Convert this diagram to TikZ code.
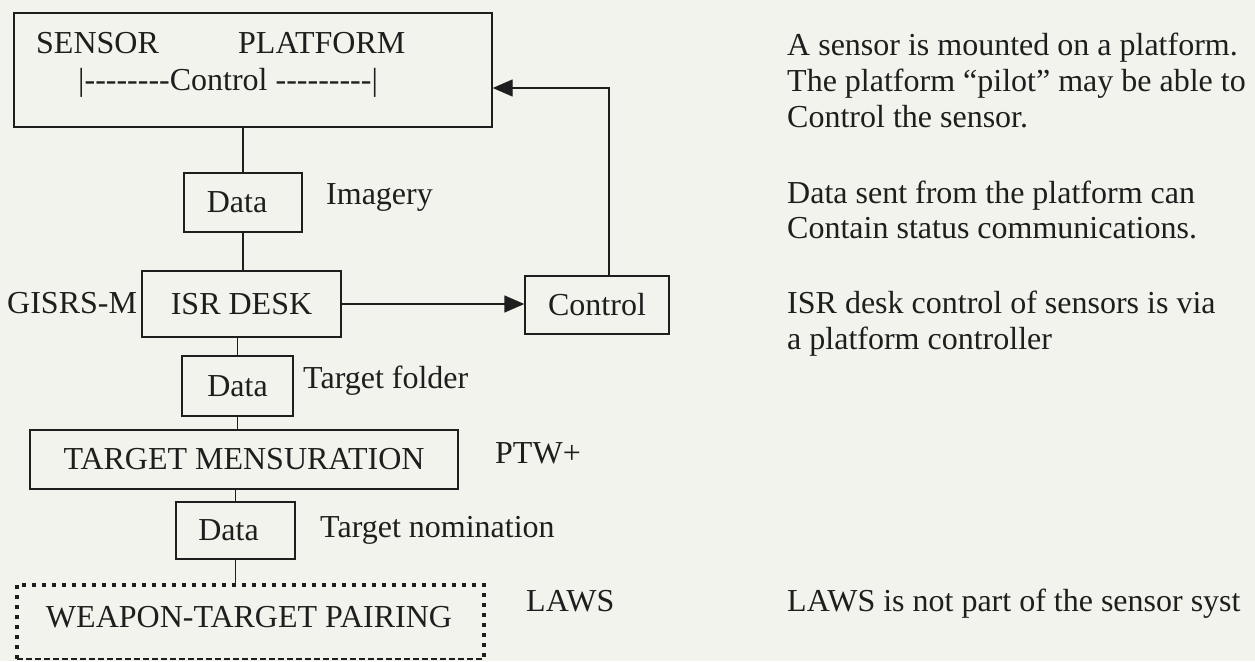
\documentclass[tikz,border=0pt]{standalone}
\usepackage{fontspec}
\setmainfont{Liberation Serif}
\usetikzlibrary{arrows.meta}
\definecolor{paper}{RGB}{243,243,237}
\definecolor{ink}{RGB}{30,30,30}
\newcommand\hy{-\kern0pt}
\begin{document}
\begin{tikzpicture}[x=1pt,y=-1pt,
  every node/.style={font=\fontsize{32}{36}\selectfont, text=ink, inner sep=0pt},
  box/.style={draw=ink, line width=1.4pt, rectangle, inner sep=0pt},
  conn/.style={draw=ink, line width=1.4pt},
  thinconn/.style={draw=ink, line width=1.0pt},
  arr/.style={conn, -{Triangle[length=20pt,width=17pt]}},
  lbl/.style={anchor=base west}]
\fill[paper] (0,0) rectangle (1255,661);
\useasboundingbox (0,0) rectangle (1255,661);

% sensor / platform box
\node[box, minimum width=478pt, minimum height=114pt] (sp) at (253,70) {};
\node[lbl] (sensor) at (36,53) {SENSOR};
\node[lbl] (platform) at (238,53) {PLATFORM};
\node[lbl] (ctlline) at (78,90) {|\hy\hy\hy\hy\hy\hy\hy\hy Control \hy\hy\hy\hy\hy\hy\hy\hy\hy|};

% chain
\node[box, minimum width=118pt, minimum height=59pt] (d1) at (243,202.5) {\hspace*{-12pt}Data};
\node[lbl] (imag) at (326,204) {Imagery};
\node[box, minimum width=199pt, minimum height=66pt] (isr) at (241.5,304) {ISR DESK};
\node[lbl] (gis) at (7,313) {GISRS-M};
\node[box, minimum width=144pt, minimum height=58pt] (ctrl) at (597,305) {Control};
\node[box, minimum width=111pt, minimum height=60pt] (d2) at (237.5,386) {Data};
\node[lbl] (tf) at (303,388) {Target folder};
\node[box, minimum width=428pt, minimum height=59pt] (tm) at (244,459.5) {TARGET MENSURATION};
\node[lbl] (ptw) at (495,463) {PTW+};
\node[box, minimum width=119pt, minimum height=57pt] (d3) at (235.5,530.5) {\hspace*{-14pt}Data};
\node[lbl] (tn) at (320,537) {Target nomination};
\node[minimum width=467pt, minimum height=74pt] (wtp) at (250.5,622) {};
\node[anchor=base] (wtpl) at (249,627) {WEAPON-TARGET PAIRING};
\node[lbl] (laws) at (526,611) {LAWS};

% notes
\node[lbl] (n1) at (787,56) {A sensor is mounted on a platform.};
\node[lbl] (n2) at (787,91) {The platform “pilot” may be able to};
\node[lbl] (n3) at (787,127) {Control the sensor.};
\node[lbl] (n4) at (787,203) {Data sent from the platform can};
\node[lbl] (n5) at (787,238) {Contain status communications.};
\node[lbl] (n6) at (787,313) {ISR desk control of sensors is via};
\node[lbl] (n7) at (787,349) {a platform controller};
\node[lbl] (n8) at (787,611) {LAWS is not part of the sensor syst};

% connectors
\draw[conn] (d1.north) -- (d1.north |- sp.south);
\draw[conn] (d1.south) -- (d1.south |- isr.north);
\draw[thinconn] (d2.north) -- (d2.north |- isr.south);
\draw[thinconn] (d2.south) -- (d2.south |- tm.north);
\draw[thinconn] (d3.north) -- (d3.north |- tm.south);
\draw[conn] (d3.south) -- (d3.south |- wtp.north);
\draw[arr] (isr.east) -- (isr.east -| ctrl.west);
\coordinate (bend) at (609,88);
\draw[arr] (ctrl.north -| bend) -- (bend) -- (bend -| sp.east);

% dotted weapon-target box
\draw[ink, line width=4pt, dash pattern=on 4pt off 6pt]
  (wtp.south west) -- (wtp.north west) -- (wtp.north east) -- (wtp.south east);
\draw[ink, line width=2pt, dash pattern=on 6pt off 3pt]
  (wtp.south west) -- (wtp.south east);
\end{tikzpicture}
\end{document}
